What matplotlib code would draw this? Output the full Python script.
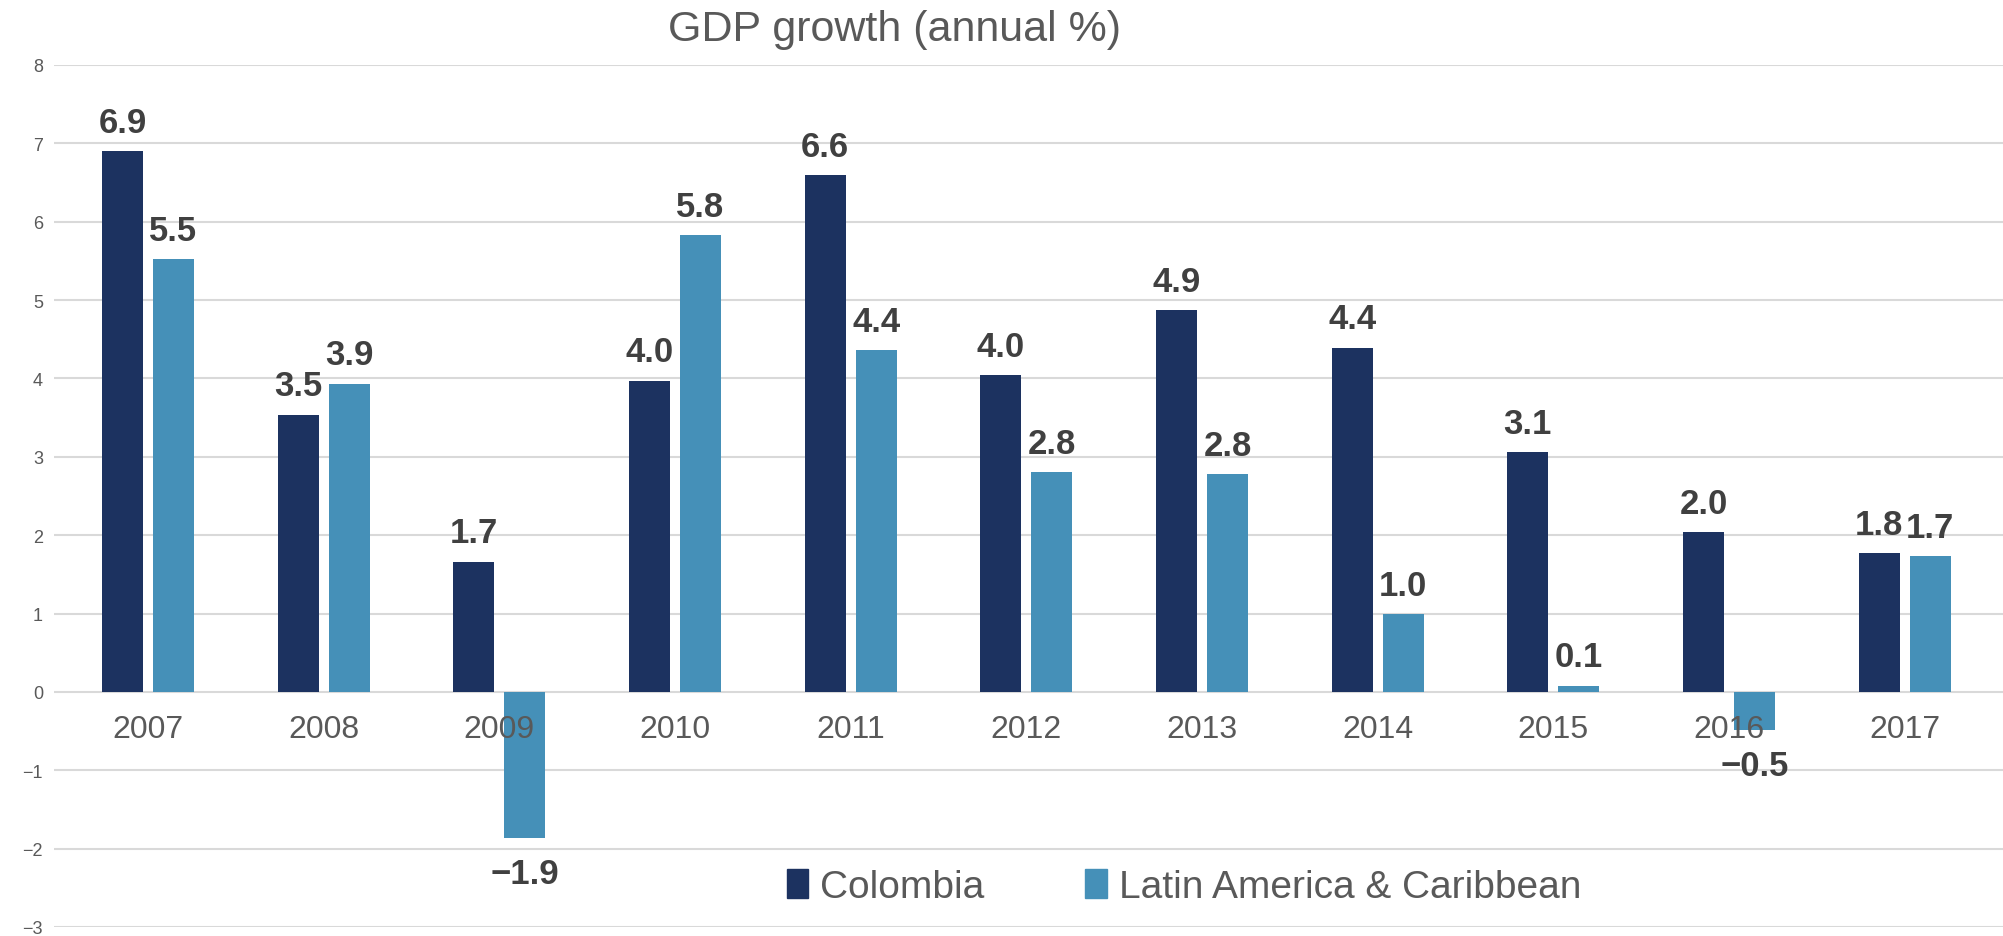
import numpy as np
import matplotlib
matplotlib.use("Agg")
import matplotlib.pyplot as plt
from matplotlib.patches import Patch

plt.rcParams['font.family'] = ['Liberation Sans Narrow', 'Liberation Sans', 'DejaVu Sans']

# data
years = ["2007", "2008", "2009", "2010", "2011", "2012", "2013", "2014", "2015", "2016", "2017"]
colombia = [6.90, 3.54, 1.66, 3.97, 6.59, 4.04, 4.87, 4.39, 3.06, 2.04, 1.77]
latam = [5.52, 3.93, -1.86, 5.83, 4.36, 2.80, 2.78, 0.99, 0.08, -0.48, 1.73]
series_names = ["Colombia", "Latin America & Caribbean"]
colors = ["#1c3260", "#4590b8"]
yticks = [-3, -2, -1, 0, 1, 2, 3, 4, 5, 6, 7, 8]

txt = "#595959"
lab = "#404040"

fig = plt.figure(figsize=(20.03, 9.37), dpi=100)
ax = fig.add_axes([54 / 2003, 9 / 937, 1 - 54 / 2003, (928 - 66) / 937])

x = np.arange(len(years))
w = 0.233
off = 0.145
b1 = ax.bar(x - off, colombia, w, color=colors[0], zorder=3)
b2 = ax.bar(x + off, latam, w, color=colors[1], zorder=3)

# value labels
for bars, vals in [(b1, colombia), (b2, latam)]:
    for rect, v in zip(bars, vals):
        cx = rect.get_x() + rect.get_width() / 2
        if v >= 0:
            ax.annotate(f"{v:.1f}", (cx, v), xytext=(0, 9), textcoords="offset points",
                        ha="center", va="bottom", fontsize=25, fontweight="bold", color=lab)
        else:
            ax.annotate("\u2212" + f"{-v:.1f}", (cx, v), xytext=(0, -14),
                        textcoords="offset points", ha="center", va="top",
                        fontsize=25, fontweight="bold", color=lab)

# category labels just under the zero line
for xi, yr in zip(x, years):
    ax.text(xi, -0.28, yr, ha="center", va="top", fontsize=23, color=txt, zorder=4)

ax.set_ylim(-3, 8)
ax.set_xlim(-0.535, 10.56)
ax.set_yticks(yticks)
ax.set_yticklabels([str(t).replace("-", "\u2212") for t in yticks], fontsize=13, color=txt)
ax.tick_params(axis="y", length=0, pad=8)
ax.set_xticks([])
ax.grid(axis="y", color="#d9d9d9", linewidth=1.5, zorder=0)
for s in ax.spines.values():
    s.set_visible(False)

fig.text(894 / 2003, 1 - 30 / 937, "GDP growth (annual %)", ha="center", va="center",
         fontsize=31, color=txt)

handles = [Patch(color=c) for c in colors]
fig.legend(handles, series_names, loc="center", bbox_to_anchor=(1184 / 2003, 1 - 888 / 937),
           ncol=2, frameon=False, fontsize=28, labelcolor=txt, handlelength=0.55,
           handleheight=0.75, handletextpad=0.3, columnspacing=2.6)

fig.savefig("out.png", dpi=100)
